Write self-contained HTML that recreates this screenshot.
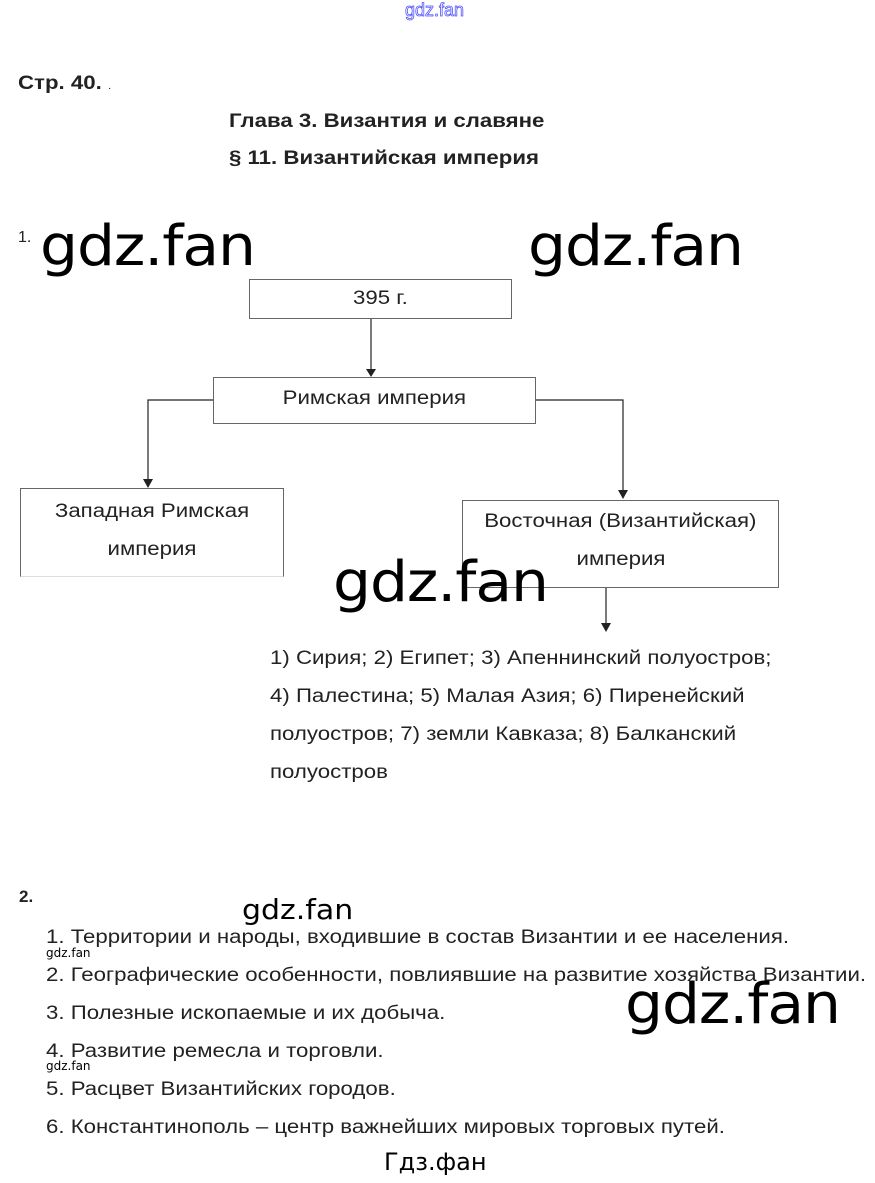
<!DOCTYPE html>
<html><head><meta charset="utf-8"><style>
body{margin:0;width:875px;height:1183px;background:#fff;position:relative;font-family:"Liberation Sans",Arial,sans-serif;color:#111;overflow:hidden}
.a{position:absolute;white-space:nowrap}
.s{transform:scaleX(1.17);transform-origin:0 0}
.b{font-weight:bold;font-size:19px;color:#222}
.w{font-family:"DejaVu Sans","Liberation Sans",sans-serif;color:#000;font-size:56px;letter-spacing:-1px;transform:scaleX(1.07);transform-origin:0 0}
.box{position:absolute;border:1px solid #666;box-sizing:border-box;text-align:center;font-size:19px;color:#222}
.box span{display:inline-block;transform:scaleX(1.17)}
.t{font-size:19px;color:#222}
</style></head><body>
<div class="a" style="left:405px;top:0px;font-size:18px;color:#fff;-webkit-text-stroke:0.8px #55f;">gdz.fan</div>
<div class="a b s" style="left:18px;top:73px;">Стр. 40. <span style="font-weight:normal;font-size:10px">.</span></div>
<div class="a b s" style="left:229px;top:111px;">Глава 3. Византия и славяне</div>
<div class="a b s" style="left:229px;top:148px;">§ 11. Византийская империя</div>
<div class="a b" style="left:18px;top:229px;font-size:16px;font-weight:normal">1.</div>
<div class="a w" style="left:40px;top:214px;">gdz.fan</div>
<div class="a w" style="left:528px;top:214px;">gdz.fan</div>

<div class="box" style="left:249px;top:279px;width:263px;height:40px;line-height:38px;"><span>395 г.</span></div>
<div class="box" style="left:213px;top:377px;width:323px;height:47px;line-height:42px;"><span>Римская империя</span></div>
<div class="box" style="left:20px;top:488px;width:264px;height:89px;padding-top:4px;line-height:38px;border-bottom-color:#ddd"><span>Западная Римская</span><br><span>империя</span></div>
<div class="box" style="left:462px;top:500px;width:317px;height:88px;padding-top:2px;line-height:38px;"><span>Восточная (Византийская)</span><br><span>империя</span></div>
<svg class="a" style="left:0;top:0" width="875" height="700">
<g stroke="#222" stroke-width="1.2" fill="none">
<line x1="371" y1="319" x2="371" y2="371"/>
<polyline points="213,400 148,400 148,482"/>
<polyline points="536,400 623,400 623,494"/>
<line x1="606" y1="588" x2="606" y2="626"/>
</g>
<g fill="#222">
<polygon points="366,369 376,369 371,377"/>
<polygon points="143,479 153,479 148,488"/>
<polygon points="618,490 628,490 623,499"/>
<polygon points="601,623 611,623 606,632"/>
</g></svg>
<div class="a w" style="left:333px;top:550px;">gdz.fan</div>
<div class="a t s" style="left:270px;top:640px;line-height:38px;">1) Сирия; 2) Египет; 3) Апеннинский полуостров;<br>4) Палестина; 5) Малая Азия; 6) Пиренейский<br>полуостров; 7) земли Кавказа; 8) Балканский<br>полуостров</div>

<div class="a b" style="left:19px;top:887px;font-size:17px">2.</div>
<div class="a w" style="left:242px;top:893px;font-size:28px;letter-spacing:0">gdz.fan</div>
<div class="a t s" style="left:46px;top:919px;line-height:38px;">1. Территории и народы, входившие в состав Византии и ее населения.<br>2. Географические особенности, повлиявшие на развитие хозяйства Византии.<br>3. Полезные ископаемые и их добыча.<br>4. Развитие ремесла и торговли.<br>5. Расцвет Византийских городов.<br>6. Константинополь – центр важнейших мировых торговых путей.</div>
<div class="a" style="left:46px;top:946px;font-size:12px;color:#000;font-family:'DejaVu Sans',sans-serif">gdz.fan</div>
<div class="a" style="left:46px;top:1059px;font-size:12px;color:#000;font-family:'DejaVu Sans',sans-serif">gdz.fan</div>
<div class="a w" style="left:625px;top:972px;">gdz.fan</div>
<div class="a" style="left:384px;top:1148px;font-size:24px;color:#000;font-family:'DejaVu Sans',sans-serif">Гдз.фан</div>
</body></html>
